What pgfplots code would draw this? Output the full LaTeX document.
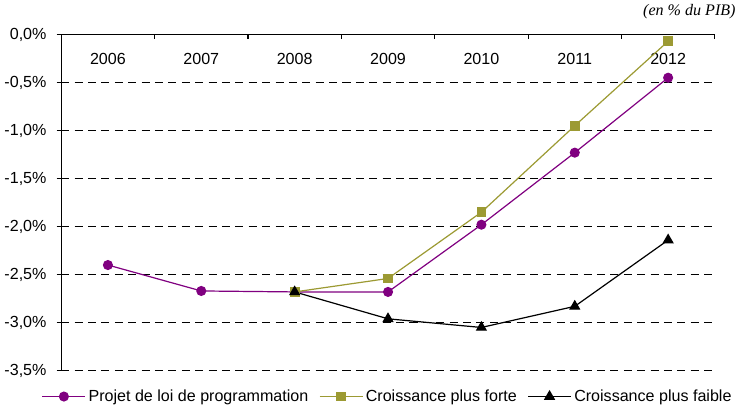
\documentclass[border=0pt]{standalone}
\usepackage{pgfplots}
\pgfplotsset{compat=1.18}
\usepackage{fontspec}
\setmainfont{Liberation Sans}
\newfontfamily\timesfont{Liberation Serif}
\definecolor{cpurple}{HTML}{800080}
\definecolor{colive}{HTML}{9C9A33}
\begin{document}
\begin{tikzpicture}
\begin{axis}[
  scale only axis, width=488pt, height=251pt,
  xmin=-0.5, xmax=6.5, ymin=-3.5, ymax=0,
  axis x line=top, axis y line=left,
  axis line style={-, line width=0.8pt},
  x axis line style={-}, y axis line style={-},
  font=\fontsize{12}{14}\selectfont,
  xtick={-0.5,0.5,...,6.5}, xticklabels={},
  xtick align=inside, major tick length=3.5pt,
  extra x ticks={0,1,2,3,4,5,6},
  extra x tick labels={2006,2007,2008,2009,2010,2011,2012},
  extra x tick style={major tick length=0pt, xticklabel style={anchor=center, yshift=-18pt}},
  ytick={-3.5,-3,-2.5,-2,-1.5,-1,-0.5,0},
  yticklabels={{-3,5\%},{-3,0\%},{-2,5\%},{-2,0\%},{-1,5\%},{-1,0\%},{-0,5\%},{0,0\%}},
  ytick align=outside,
  yticklabel style={xshift=-4pt},
  ymajorgrids, grid style={black, dash pattern=on 6pt off 4pt, line width=0.6pt},
  tick style={black, line width=0.8pt},
  clip=false,
  legend style={at={(0.5,-0.0)}, anchor=north, yshift=-10pt, legend columns=3, draw=none, fill=none,
    font=\fontsize{12}{14}\selectfont, /tikz/every even column/.append style={column sep=6pt}},
  legend image code/.code={\draw[mark repeat=2,mark phase=2] plot coordinates {(0pt,0pt)(16pt,0pt)(32pt,0pt)};},
]
\addplot[cpurple, line width=0.9pt, mark=*, mark size=3.3pt, mark options={solid, fill=cpurple}] coordinates {
(0,-2.40) (1,-2.67) (2,-2.68) (3,-2.68) (4,-1.98) (5,-1.23) (6,-0.45)};
\addlegendentry{Projet de loi de programmation}
\addplot[colive, line width=0.9pt, mark=square*, mark size=3.2pt, mark options={solid, fill=colive}] coordinates {
(2,-2.68) (3,-2.54) (4,-1.85) (5,-0.95) (6,-0.07)};
\addlegendentry{Croissance plus forte}
\addplot[black, line width=0.9pt, mark=triangle*, mark size=4pt, mark options={solid, fill=black}] coordinates {
(2,-2.68) (3,-2.96) (4,-3.05) (5,-2.83) (6,-2.14)};
\addlegendentry{Croissance plus faible}
\node[anchor=east, font=\fontsize{12}{14}\selectfont\timesfont\itshape, xshift=19pt, yshift=17pt] at (rel axis cs:1,1) {(en \% du PIB)};
\end{axis}
\end{tikzpicture}
\end{document}
